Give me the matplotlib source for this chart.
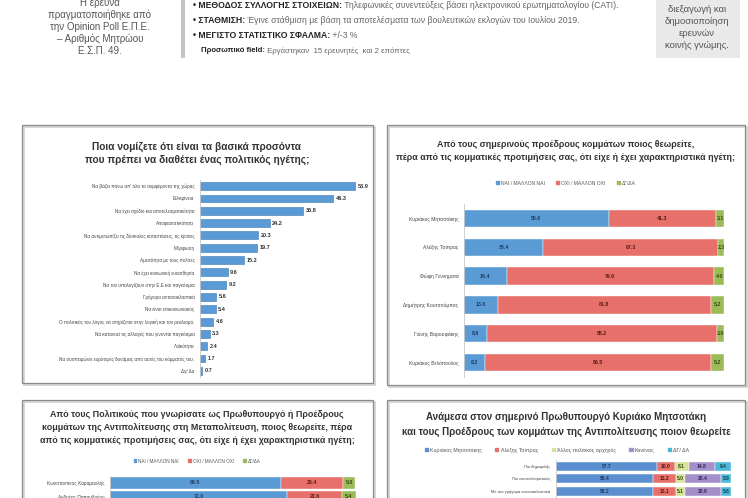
import numpy as np
import matplotlib
matplotlib.use("Agg")
from matplotlib import pyplot as plt
from matplotlib.patches import Rectangle, Patch

plt.rcParams['font.family'] = ['Liberation Sans', 'DejaVu Sans']

# ---- data ----
# panel 1: qualities of a political leader
q_labels = ["Να βάζει πάνω απ' όλα τα συμφέροντα της χώρας",
            "Ειλικρίνεια",
            "Να έχει σχέδιο και αποτελεσματικότητα",
            "Αποφασιστικότητα",
            "Να αντιμετωπίζει τις δύσκολες καταστάσεις, τις κρίσεις",
            "Μόρφωση",
            "Αμεσότητα με τους πολίτες",
            "Να έχει κοινωνική ευαισθησία",
            "Να τον υπολογίζουν στην Ε.Ε και παγκόσμια",
            "Γρήγορα αντανακλαστικά",
            "Να είναι επικοινωνιακός",
            "Ο πολιτικός του λόγος να στηρίζεται στην λογική και τον ρεαλισμό.",
            "Να κατανοεί τις αλλαγές που γίνονται παγκόσμια",
            "Λαϊκότητα",
            "Να συσπειρώνει ευρύτερες δυνάμεις από αυτές του κόμματός του.",
            "Δγ/ Δα"]
q_values = [53.9, 46.3, 35.8, 24.2, 20.3, 19.7, 15.2, 9.6, 9.2, 5.6, 5.4, 4.6, 3.3, 2.4, 1.7, 0.7]

# panel 2: current party leaders
yn_legend = ["ΝΑΙ / ΜΑΛΛΟΝ ΝΑΙ", "ΟΧΙ / ΜΑΛΛΟΝ ΟΧΙ", "ΔΓ/ΔΑ"]
lead_names = ["Κυριάκος Μητσοτάκης", "Αλέξης Τσίπρας", "Φώφη Γεννηματά",
              "Δημήτρης Κουτσούμπας", "Γιάνης Βαρουφάκης", "Κυριάκος Βελόπουλος"]
lead_yes = [55.6, 30.4, 16.4, 13.0, 8.8, 8.2]
lead_no = [41.3, 67.3, 79.6, 81.8, 88.2, 86.5]
lead_dk = [3.1, 2.3, 4.0, 5.2, 3.0, 5.2]

# panel 3: politicians since Metapolitefsi (only first rows visible)
past_names = ["Κωνσταντίνος Καραμανλής", "Ανδρέας Παπανδρέου"]
past_yes = [69.5, 72.0]
past_no = [25.4, 22.6]
past_dk = [5.0, 5.4]

# panel 4: Mitsotakis vs opposition leaders
cmp_legend = ["Κυριάκος Μητσοτάκης", "Αλέξης Τσίπρας", "Άλλος πολιτικός αρχηγός", "Κανένας", "ΔΓ/ ΔΑ"]
cmp_rows = ["Πιο δημοφιλής", "Πιο αποτελεσματικός", "Με πιο γρήγορα αντανακλαστικά"]
cmp_values = [[57.7, 55.4, 55.2],
              [10.0, 13.2, 13.1],
              [8.1, 5.0, 5.1],
              [14.8, 20.4, 20.9],
              [9.4, 5.9, 5.6]]

BLUE = '#5b9bd5'
RED = '#e8706a'
GREEN = '#9bbb59'
cmp_colors = ['#5b8fd0', '#e8706a', '#d4e29a', '#a48fcb', '#4bb8d6']

W, H = 748, 498
fig = plt.figure(figsize=(W / 100, H / 100), dpi=100)
fig.patch.set_facecolor('white')


def px_axes(x0, y0, x1, y1):
    return fig.add_axes([x0 / W, 1 - y1 / H, (x1 - x0) / W, (y1 - y0) / H])


def rect(x0, y0, x1, y1, **kw):
    fig.patches.append(Rectangle((x0 / W, 1 - y1 / H), (x1 - x0) / W, (y1 - y0) / H,
                                 transform=fig.transFigure, **kw))


def ftext(x, y, s, **kw):
    return fig.text(x / W, 1 - y / H, s, **kw)


NARROW = ['Liberation Sans Narrow', 'Liberation Sans']

# ---- header ----
for i, line in enumerate(["Η έρευνα", "πραγματοποιήθηκε από", "την Opinion Poll Ε.Π.Ε.",
                          "– Αριθμός Μητρώου", "Ε.Σ.Π. 49."]):
    ftext(100, 3 + i * 12, line, ha='center', va='center', fontsize=7, color='#555',
          family=NARROW)
rect(181, 0, 185, 58, color='#c4c4c4', lw=0)
rect(656, 0, 740, 58, color='#e9e9e9', lw=0)
for i, line in enumerate(["διεξαγωγή και", "δημοσιοποίηση", "ερευνών", "κοινής γνώμης."]):
    ftext(697, 9 + i * 12, line, ha='center', va='center', fontsize=6.8, color='#555',
          family=NARROW)

bullets = [(193, 5, "• ΜΕΘΟΔΟΣ ΣΥΛΛΟΓΗΣ ΣΤΟΙΧΕΙΩΝ:",
            " Τηλεφωνικές συνεντεύξεις βάσει ηλεκτρονικού ερωτηματολογίου (CATI)."),
           (193, 20, "• ΣΤΑΘΜΙΣΗ:",
            " Έγινε στάθμιση με βάση τα αποτελέσματα των βουλευτικών εκλογών του Ιουλίου 2019."),
           (193, 36, "• ΜΕΓΙΣΤΟ ΣΤΑΤΙΣΤΙΚΟ ΣΦΑΛΜΑ:", " +/-3 %"),
           (201, 51, "Προσωπικό field:", " Εργάστηκαν  15 ερευνητές  και 2 επόπτες")]
fig.canvas.draw()
renderer = fig.canvas.get_renderer()
for x, y, bold, rest in bullets:
    fs = 6.2 if y < 45 else 5.6
    t = ftext(x, y, bold, ha='left', va='center', fontsize=fs, fontweight='bold', color='#222',
              family=NARROW)
    bb = t.get_window_extent(renderer)
    fig.text(bb.x1 / W, 1 - y / H, rest, ha='left', va='center', fontsize=fs, color='#666',
             family=NARROW)

# ---- panel frames ----
for (x0, y0, x1, y1) in [(22, 125, 373, 383), (387, 125, 745, 385),
                         (22, 400, 373, 505), (387, 400, 745, 505)]:
    rect(x0 + 2, y0 + 2, x1 + 2, y1 + 2, fill=False, ec='#d0d0d0', lw=1.2)
    rect(x0, y0, x1, y1, fill=False, ec='#8a8a8a', lw=0.9)


def clean(ax):
    for s in ['top', 'right', 'bottom']:
        ax.spines[s].set_visible(False)
    ax.spines['left'].set_color('#c8c8c8')
    ax.spines['left'].set_linewidth(0.6)
    ax.set_xticks([])
    ax.tick_params(axis='y', length=0, pad=4)
    ax.set_facecolor('none')


# ---- panel 1 ----
ftext(197, 147, "Ποια νομίζετε ότι είναι τα βασικά προσόντα", ha='center', va='center',
      fontsize=7.3, fontweight='bold', color='#333')
ftext(197, 160, "που πρέπει να διαθέτει ένας πολιτικός ηγέτης;", ha='center', va='center',
      fontsize=7.3, fontweight='bold', color='#333')
ax1 = px_axes(200, 180, 367, 377)
y1 = np.arange(len(q_values))
ax1.barh(y1, q_values, height=0.64, color=BLUE, edgecolor='#3f78b0', lw=0.4)
ax1.set_xlim(0, 58)
ax1.set_ylim(len(q_values) - 0.5, -0.5)
ax1.set_yticks(y1)
ax1.set_yticklabels(q_labels, fontsize=3.3, color='#444')
for yy, v in zip(y1, q_values):
    ax1.text(v + 0.9, yy, f"{v:.1f}", va='center', ha='left', fontsize=4,
             fontweight='bold', color='#333')
clean(ax1)


def stacked(ax, names, parts, colors, height, fs_lab, fs_val, tcolors):
    yy = np.arange(len(names))
    left = np.zeros(len(names))
    for vals, c, tc in zip(parts, colors, tcolors):
        vals = np.array(vals)
        ax.barh(yy, vals, left=left, height=height, color=c, lw=0.3, edgecolor='white')
        for y, l, v in zip(yy, left, vals):
            ax.text(l + v / 2, y, f"{v:.1f}", ha='center', va='center', fontsize=fs_val,
                    fontweight='bold', color=tc)
        left += vals
    ax.set_xlim(0, 101)
    ax.set_ylim(len(names) - 0.5, -0.5)
    ax.set_yticks(yy)
    ax.set_yticklabels(names, fontsize=fs_lab, color='#444')
    clean(ax)


# ---- panel 2 ----
ftext(566, 144, "Από τους σημερινούς προέδρους κομμάτων ποιος θεωρείτε,", ha='center',
      va='center', fontsize=6.4, fontweight='bold', color='#333')
ftext(566, 157, "πέρα από τις κομματικές προτιμήσεις σας, ότι είχε ή έχει χαρακτηριστικά ηγέτη;",
      ha='center', va='center', fontsize=6.4, fontweight='bold', color='#333')
ax2 = px_axes(464, 204, 727, 377)
stacked(ax2, lead_names, [lead_yes, lead_no, lead_dk], [BLUE, RED, GREEN], 0.6, 3.6, 3.8,
        ['#1f3c66', '#5a1a16', '#3b4a10'])
h2 = [Patch(color=c) for c in [BLUE, RED, GREEN]]
fig.legend(h2, yn_legend, loc='center', bbox_to_anchor=(566 / W, 1 - 183 / H), ncol=3,
           fontsize=3.6, frameon=False, handlelength=0.6, handleheight=0.6,
           columnspacing=2.2, handletextpad=0.4, labelcolor='#555')

# ---- panel 3 ----
for i, line in enumerate(["Από τους Πολιτικούς που γνωρίσατε ως Πρωθυπουργό ή Προέδρους",
                          "κομμάτων της Αντιπολίτευσης στη Μεταπολίτευση, ποιος θεωρείτε, πέρα",
                          "από τις κομματικές προτιμήσεις σας, ότι είχε ή έχει χαρακτηριστικά ηγέτη;"]):
    ftext(197, 414 + i * 13, line, ha='center', va='center', fontsize=6.4,
          fontweight='bold', color='#333')
ax3 = px_axes(110, 476, 358, 504)
stacked(ax3, past_names, [past_yes, past_no, past_dk], [BLUE, RED, GREEN], 0.8, 3.4, 3.8,
        ['#1f3c66', '#5a1a16', '#3b4a10'])
fig.legend(h2, yn_legend, loc='center', bbox_to_anchor=(197 / W, 1 - 461 / H), ncol=3,
           fontsize=3.3, frameon=False, handlelength=0.6, handleheight=0.6,
           columnspacing=2.0, handletextpad=0.4, labelcolor='#555')

# ---- panel 4 ----
ftext(566, 417, "Ανάμεσα στον σημερινό Πρωθυπουργό Κυριάκο Μητσοτάκη", ha='center',
      va='center', fontsize=7, fontweight='bold', color='#333')
ftext(566, 432, "και τους Προέδρους των κομμάτων της Αντιπολίτευσης ποιον θεωρείτε",
      ha='center', va='center', fontsize=7, fontweight='bold', color='#333')
ax4 = px_axes(556, 460, 733, 497.5)
stacked(ax4, cmp_rows, cmp_values, cmp_colors, 0.72, 3.0, 3.6,
        ['#1f3c66', '#5a1a16', '#3b4a10', '#3a2a5a', '#114455'])
h4 = [Patch(color=c) for c in cmp_colors]
fig.legend(h4, cmp_legend, loc='center', bbox_to_anchor=(557 / W, 1 - 450 / H), ncol=5,
           fontsize=3.8, frameon=False, handlelength=0.6, handleheight=0.6,
           columnspacing=2.6, handletextpad=0.4, labelcolor='#555')

fig.savefig("out.png", dpi=100, facecolor='white')
